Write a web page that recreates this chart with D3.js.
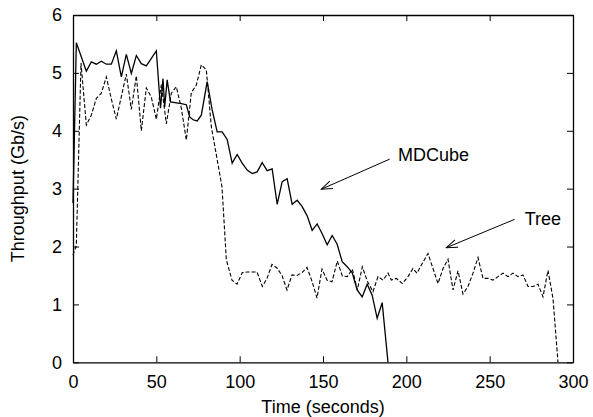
<!DOCTYPE html>
<html>
<head>
<meta charset="utf-8">
<script src="https://cdn.jsdelivr.net/npm/d3@7"></script>
<style>
  body { margin: 0; background: #fff; }
  text { font-family: "Liberation Sans", Arial, sans-serif; fill: #000; }
</style>
</head>
<body>
<script>
// MDCube series (time in seconds, throughput in Gb/s)
var mdcubeTime = [0, 2, 8, 11, 14, 17, 20, 23, 26, 29, 32, 35, 38, 41, 44, 47, 50,
    52.5, 54, 55, 56.5, 58.5, 65, 68, 70, 72, 74.5, 77, 80.5, 83.5, 86.5, 89.5,
    92.5, 95.5, 98.5, 101.5, 104.5, 107.5, 110.5, 113.5, 116.5, 119.5, 122.5,
    125.5, 128.5, 131.5, 134.5, 137.5, 140.5, 143.5, 146.5, 149.5, 152.5, 155.5,
    158.5, 161.5, 164.5, 167.5, 170.5, 173.5, 176.5, 179.5, 182.5, 185.5, 189];
var mdcubeValue = [2.75, 5.52, 5.03, 5.19, 5.15, 5.20, 5.15, 5.15, 5.38, 4.93, 5.32, 4.99, 5.30, 5.16, 5.12, 5.25, 5.38,
    4.39, 4.90, 4.41, 4.88, 4.50, 4.47, 4.45, 4.24, 4.19, 4.17, 4.27, 4.85, 4.36, 3.98, 3.98,
    3.85, 3.44, 3.59, 3.44, 3.32, 3.26, 3.29, 3.45, 3.31, 3.34, 2.73,
    3.12, 3.17, 2.73, 2.80, 2.69, 2.53, 2.28, 2.39, 2.22, 2.03, 2.19,
    2.04, 1.74, 1.65, 1.55, 1.25, 1.13, 1.35, 1.16, 0.76, 1.03, 0];

// Tree series
var treeTime = [0, 2, 4.8, 8, 11, 14, 17, 20, 23, 26, 29, 32, 35, 38, 41, 44, 47, 50,
    53, 56, 59, 62, 65, 68, 71, 74, 77, 80, 83, 86.4, 89.4, 92, 95.4, 98.4,
    101.6, 104.6, 107.6, 110.4, 113.6, 116.4, 119.4, 122.4, 125.4, 128.4, 131.4,
    134.4, 137.4, 140.4, 143.4, 146.4, 149.4, 152.4, 155.4, 158.6, 161.6, 164.6,
    167.6, 170.6, 173.6, 176.6, 180, 183, 186, 189, 191, 194, 197.6, 201, 204,
    206.4, 209.6, 213, 216, 219, 222, 225, 228, 231, 234, 237, 240, 243, 246,
    249, 252, 255, 258, 261, 264, 267, 270, 273, 276, 279, 282, 285, 288, 291];
var treeValue = [1.85, 2.02, 5.17, 4.10, 4.27, 4.56, 4.65, 4.93, 4.55, 4.20, 4.59, 4.98, 4.37, 4.95, 4.00, 4.74, 4.58, 4.20,
    4.80, 4.12, 4.65, 4.76, 4.39, 3.84, 4.66, 4.79, 5.14, 5.05, 4.07, 3.52, 3.03, 1.77, 1.42, 1.35,
    1.55, 1.56, 1.56, 1.56, 1.31, 1.45, 1.69, 1.63, 1.50, 1.25, 1.51,
    1.50, 1.55, 1.64, 1.40, 1.11, 1.61, 1.42, 1.39, 1.75, 1.49, 1.48,
    1.61, 1.25, 1.65, 1.40, 1.22, 1.48, 1.42, 1.54, 1.42, 1.45, 1.36, 1.48, 1.62,
    1.54, 1.71, 1.88, 1.62, 1.36, 1.62, 1.78, 1.25, 1.58, 1.18, 1.31, 1.54, 1.81, 1.45,
    1.45, 1.42, 1.48, 1.54, 1.48, 1.54, 1.48, 1.51, 1.31, 1.31, 1.35, 1.13, 1.59, 1.10, 0];

var xTicks = [0, 50, 100, 150, 200, 250, 300];
var yTicks = [0, 1, 2, 3, 4, 5, 6];

// labels with arrow: [text x, text y, arrow from x, from y, to x, to y] in data units
var labelNames = ["MDCube", "Tree"];
var labelAt = [[195, 3.48], [271, 2.37]];
var arrowFrom = [[190, 3.51], [265, 2.47]];
var arrowTo = [[149, 2.99], [224, 1.98]];

var width = 593,
    height = 417;
var margin = {top: 15, right: 20, bottom: 55, left: 73};
var fontSize = "18px";

var svg = d3.select("body")
    .append("svg")
    .attr("width", width)
    .attr("height", height);

var x = d3.scaleLinear()
    .domain([0, 300])
    .range([margin.left, width - margin.right]);

var y = d3.scaleLinear()
    .domain([0, 6])
    .range([height - margin.bottom + 0.3, margin.top]);

// axes, ticks pointing inwards on all four sides
function styleAxis(g) {
    g.selectAll("path.domain").attr("stroke", "#000").attr("stroke-width", 1.3);
    g.selectAll(".tick line").attr("stroke", "#000").attr("stroke-width", 1);
    g.selectAll(".tick text").style("font-size", fontSize).attr("fill", "#000");
}

svg.append("g")
    .attr("transform", "translate(0," + y(0) + ")")
    .call(d3.axisBottom(x).tickValues(xTicks).tickFormat(d3.format("d"))
        .tickSizeInner(-6).tickSizeOuter(0).tickPadding(13))
    .call(styleAxis);

svg.append("g")
    .attr("transform", "translate(0," + y(6) + ")")
    .call(d3.axisTop(x).tickValues(xTicks).tickSizeInner(-6).tickSizeOuter(0).tickFormat(""))
    .call(styleAxis);

svg.append("g")
    .attr("transform", "translate(" + x(0) + ",0)")
    .call(d3.axisLeft(y).tickValues(yTicks).tickFormat(d3.format("d"))
        .tickSizeInner(-6).tickSizeOuter(0).tickPadding(11))
    .call(styleAxis);

svg.append("g")
    .attr("transform", "translate(" + x(300) + ",0)")
    .call(d3.axisRight(y).tickValues(yTicks).tickSizeInner(-6).tickSizeOuter(0).tickFormat(""))
    .call(styleAxis);

// axis titles
svg.append("text")
    .attr("x", (x(0) + x(300)) / 2)
    .attr("y", 413)
    .attr("text-anchor", "middle")
    .style("font-size", fontSize)
    .text("Time (seconds)");

svg.append("text")
    .attr("transform", "translate(24," + (y(0) + y(6)) / 2 + ") rotate(-90)")
    .attr("text-anchor", "middle")
    .style("font-size", fontSize)
    .text("Throughput (Gb/s)");

// series lines
var line = d3.line()
    .x(function(d){ return x(d[0]); })
    .y(function(d){ return y(d[1]); });

var treeData = d3.zip(treeTime, treeValue);
var mdcubeData = d3.zip(mdcubeTime, mdcubeValue);

svg.append("path")
    .datum(treeData)
    .attr("fill", "none")
    .attr("stroke", "#000")
    .attr("stroke-width", 1.1)
    .attr("stroke-dasharray", "4,2")
    .attr("d", line);

svg.append("path")
    .datum(mdcubeData)
    .attr("fill", "none")
    .attr("stroke", "#000")
    .attr("stroke-width", 1.3)
    .attr("d", line);

// arrows
svg.append("defs").append("marker")
    .attr("id", "arrow")
    .attr("viewBox", "-12 -6 13 12")
    .attr("refX", 0)
    .attr("refY", 0)
    .attr("markerWidth", 13)
    .attr("markerHeight", 12)
    .attr("markerUnits", "userSpaceOnUse")
    .attr("orient", "auto")
    .append("path")
    .attr("d", "M-11,-4 L0,0 L-11,4")
    .attr("fill", "none")
    .attr("stroke", "#000")
    .attr("stroke-width", 1);

labelNames.forEach(function(name, i){
    svg.append("line")
        .attr("x1", x(arrowFrom[i][0]))
        .attr("y1", y(arrowFrom[i][1]))
        .attr("x2", x(arrowTo[i][0]))
        .attr("y2", y(arrowTo[i][1]))
        .attr("stroke", "#000")
        .attr("stroke-width", 1)
        .attr("marker-end", "url(#arrow)");

    svg.append("text")
        .attr("x", x(labelAt[i][0]))
        .attr("y", y(labelAt[i][1]))
        .style("font-size", fontSize)
        .text(name);
});
</script>
</body>
</html>
